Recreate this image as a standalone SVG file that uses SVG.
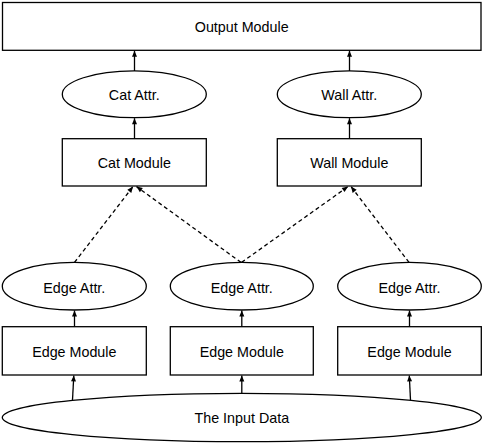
<svg xmlns="http://www.w3.org/2000/svg" width="483" height="444" viewBox="0 0 483 444">
<defs>
<marker id="ah" markerWidth="8" markerHeight="8" refX="7" refY="4" orient="auto" markerUnits="userSpaceOnUse">
<path d="M1,1.5 L7,4 L1,6.5 Z" fill="#000"/>
</marker>
<style>
.box{fill:#fff;stroke:#000;stroke-width:1.3}
.t{font-family:"Liberation Sans",Arial,sans-serif;font-size:14.3px;fill:#000;text-anchor:middle}
.c{stroke:#000;stroke-width:1.3;fill:none;marker-end:url(#ah)}
.d{stroke-dasharray:4,3}
</style>
</defs>
<rect width="483" height="444" fill="#fff"/>
<g id="output"><rect class="box" x="2.5" y="2.5" width="478.5" height="47.8"/><text class="t" x="241.7" y="31.5">Output Module</text></g>
<g id="catattr"><ellipse class="box" cx="134.3" cy="94.3" rx="72" ry="23.4"/><text class="t" x="134.3" y="99.8">Cat Attr.</text></g>
<g id="wallattr"><ellipse class="box" cx="349.3" cy="94.3" rx="72" ry="23.4"/><text class="t" x="349.3" y="99.8">Wall Attr.</text></g>
<g id="catmod"><rect class="box" x="62.3" y="138.7" width="144" height="47.3"/><text class="t" x="134.3" y="167.5">Cat Module</text></g>
<g id="wallmod"><rect class="box" x="277.3" y="138.7" width="144" height="47.3"/><text class="t" x="349.3" y="167.5">Wall Module</text></g>
<g id="edgeattr1"><ellipse class="box" cx="74.3" cy="286.2" rx="72" ry="23.8"/><text class="t" x="74.3" y="292.5">Edge Attr.</text></g>
<g id="edgeattr2"><ellipse class="box" cx="241.8" cy="286.2" rx="71.5" ry="23.8"/><text class="t" x="241.8" y="292.5">Edge Attr.</text></g>
<g id="edgeattr3"><ellipse class="box" cx="409.5" cy="286.2" rx="71.8" ry="23.8"/><text class="t" x="409.5" y="292.5">Edge Attr.</text></g>
<g id="edgemod1"><rect class="box" x="2.3" y="326.7" width="144" height="48.3"/><text class="t" x="74.3" y="357">Edge Module</text></g>
<g id="edgemod2"><rect class="box" x="170.3" y="326.7" width="143" height="48.3"/><text class="t" x="241.8" y="357">Edge Module</text></g>
<g id="edgemod3"><rect class="box" x="337.7" y="326.7" width="143.6" height="48.3"/><text class="t" x="409.5" y="357">Edge Module</text></g>
<g id="input"><ellipse class="box" cx="241.8" cy="417.5" rx="239.5" ry="24.2"/><text class="t" x="241.8" y="422.5">The Input Data</text></g>
<g id="connectors">
<line class="c" x1="134.5" y1="71" x2="134.5" y2="50.8"/>
<line class="c" x1="349.5" y1="71" x2="349.5" y2="50.8"/>
<line class="c" x1="134.5" y1="138.7" x2="134.5" y2="118.2"/>
<line class="c" x1="349.5" y1="138.7" x2="349.5" y2="118.2"/>
<line class="c d" x1="74.5" y1="262.4" x2="133" y2="186.6"/>
<line class="c d" x1="241" y1="262.4" x2="136.5" y2="186.6"/>
<line class="c d" x1="241.6" y1="262.4" x2="348" y2="186.6"/>
<line class="c d" x1="409" y1="262.4" x2="351" y2="186.6"/>
<line class="c" x1="74.5" y1="326.7" x2="74.5" y2="310.5"/>
<line class="c" x1="241.8" y1="326.7" x2="241.8" y2="310.5"/>
<line class="c" x1="409.5" y1="326.7" x2="409.5" y2="310.5"/>
<line class="c" x1="72.5" y1="400" x2="73.8" y2="375.5"/>
<line class="c" x1="241.8" y1="393.3" x2="241.8" y2="375.5"/>
<line class="c" x1="410.5" y1="400" x2="409.3" y2="375.5"/>
</g>
</svg>
